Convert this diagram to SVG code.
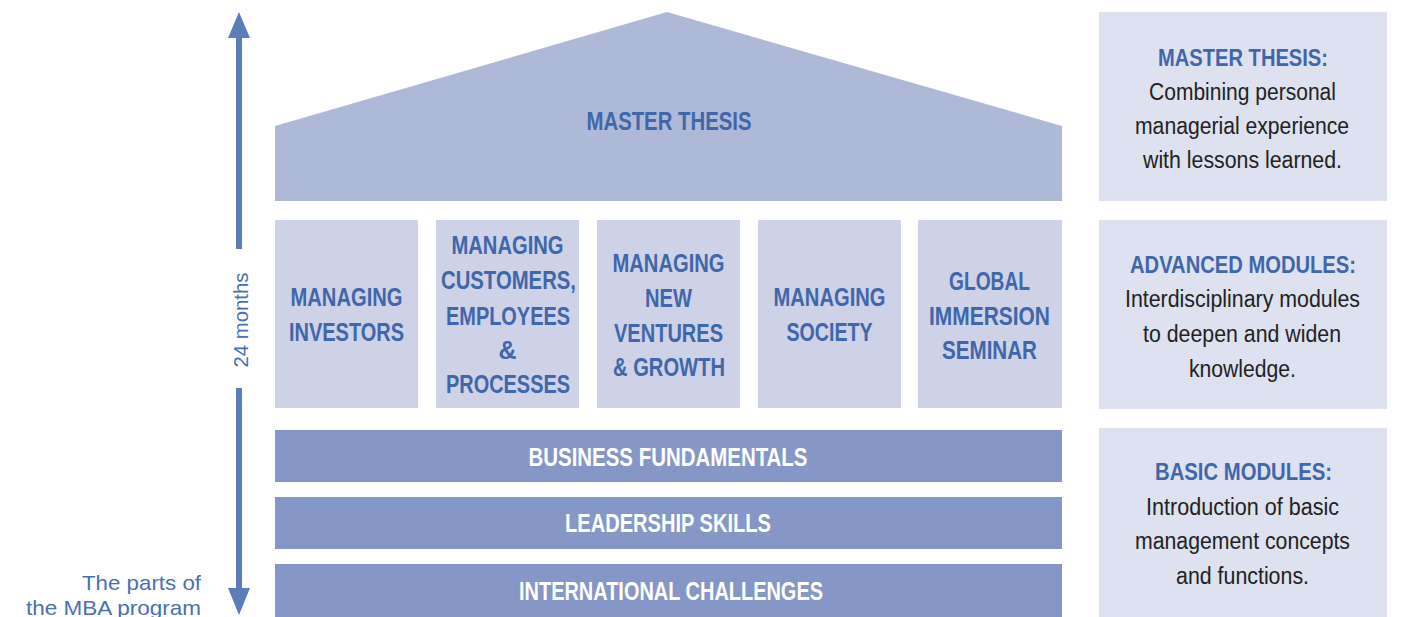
<svg xmlns="http://www.w3.org/2000/svg" width="1401" height="617" viewBox="0 0 1401 617">
<style>
.roof{fill:#aeb9d8}
.col{fill:#cdd2e6}
.bar{fill:#8597c6}
.info{fill:#dde1f0}
.ct{font-family:"Liberation Sans Narrow","Liberation Sans",Arial,sans-serif;font-weight:bold;font-size:25px;fill:#3f67aa;text-anchor:middle}
.bt{font-family:"Liberation Sans Narrow","Liberation Sans",Arial,sans-serif;font-weight:bold;font-size:25px;fill:#ffffff;text-anchor:middle}
.hd{font-family:"Liberation Sans Narrow","Liberation Sans",Arial,sans-serif;font-weight:bold;font-size:24px;fill:#3f67aa;text-anchor:middle}
.bd{font-family:"Liberation Sans",Arial,sans-serif;font-size:23px;fill:#222222;text-anchor:middle}
.lt{font-family:"Liberation Sans",Arial,sans-serif;font-size:21px;fill:#4a70b3}
</style>
<g id="roof">
<polygon class="roof" points="275,126 667,12 1062,126 1062,201 275,201"/>
<text class="ct" x="669" y="130" textLength="165" lengthAdjust="spacingAndGlyphs">MASTER THESIS</text>
</g>
<g id="col1">
<rect class="col" x="275" y="220" width="143" height="188"/>
<text class="ct" x="346.5" y="306" textLength="112" lengthAdjust="spacingAndGlyphs">MANAGING</text>
<text class="ct" x="346.5" y="341" textLength="115" lengthAdjust="spacingAndGlyphs">INVESTORS</text>
</g>
<g id="col2">
<rect class="col" x="436" y="220" width="143" height="188"/>
<text class="ct" x="507.5" y="254" textLength="112" lengthAdjust="spacingAndGlyphs">MANAGING</text>
<text class="ct" x="508.5" y="289" textLength="135" lengthAdjust="spacingAndGlyphs">CUSTOMERS,</text>
<text class="ct" x="508" y="325" textLength="124" lengthAdjust="spacingAndGlyphs">EMPLOYEES</text>
<text class="ct" x="507.5" y="359">&amp;</text>
<text class="ct" x="508" y="393" textLength="124" lengthAdjust="spacingAndGlyphs">PROCESSES</text>
</g>
<g id="col3">
<rect class="col" x="597" y="220" width="143" height="188"/>
<text class="ct" x="668.5" y="272" textLength="112" lengthAdjust="spacingAndGlyphs">MANAGING</text>
<text class="ct" x="668.5" y="307" textLength="47" lengthAdjust="spacingAndGlyphs">NEW</text>
<text class="ct" x="668.5" y="342" textLength="109" lengthAdjust="spacingAndGlyphs">VENTURES</text>
<text class="ct" x="669" y="376" textLength="112" lengthAdjust="spacingAndGlyphs">&amp; GROWTH</text>
</g>
<g id="col4">
<rect class="col" x="758" y="220" width="143" height="188"/>
<text class="ct" x="829.5" y="306" textLength="112" lengthAdjust="spacingAndGlyphs">MANAGING</text>
<text class="ct" x="829.5" y="341" textLength="86" lengthAdjust="spacingAndGlyphs">SOCIETY</text>
</g>
<g id="col5">
<rect class="col" x="918" y="220" width="144" height="188"/>
<text class="ct" x="989.5" y="290" textLength="81" lengthAdjust="spacingAndGlyphs">GLOBAL</text>
<text class="ct" x="989.5" y="325" textLength="121" lengthAdjust="spacingAndGlyphs">IMMERSION</text>
<text class="ct" x="989.5" y="359" textLength="95" lengthAdjust="spacingAndGlyphs">SEMINAR</text>
</g>
<g id="bar1">
<rect class="bar" x="275" y="430" width="787" height="52"/>
<text class="bt" x="668" y="466" textLength="279" lengthAdjust="spacingAndGlyphs">BUSINESS FUNDAMENTALS</text>
</g>
<g id="bar2">
<rect class="bar" x="275" y="497" width="787" height="52"/>
<text class="bt" x="668" y="532" textLength="206" lengthAdjust="spacingAndGlyphs">LEADERSHIP SKILLS</text>
</g>
<g id="bar3">
<rect class="bar" x="275" y="564" width="787" height="53"/>
<text class="bt" x="671" y="600" textLength="304" lengthAdjust="spacingAndGlyphs">INTERNATIONAL CHALLENGES</text>
</g>
<g id="info1">
<rect class="info" x="1099" y="12" width="288" height="189"/>
<text class="hd" x="1243" y="66" textLength="170" lengthAdjust="spacingAndGlyphs">MASTER THESIS:</text>
<text class="bd" x="1242.5" y="100" textLength="187" lengthAdjust="spacingAndGlyphs">Combining personal</text>
<text class="bd" x="1242" y="134" textLength="214" lengthAdjust="spacingAndGlyphs">managerial experience</text>
<text class="bd" x="1242.5" y="168" textLength="199" lengthAdjust="spacingAndGlyphs">with lessons learned.</text>
</g>
<g id="info2">
<rect class="info" x="1099" y="220" width="288" height="189"/>
<text class="hd" x="1243" y="273" textLength="226" lengthAdjust="spacingAndGlyphs">ADVANCED MODULES:</text>
<text class="bd" x="1242.5" y="307" textLength="235" lengthAdjust="spacingAndGlyphs">Interdisciplinary modules</text>
<text class="bd" x="1242" y="342" textLength="198" lengthAdjust="spacingAndGlyphs">to deepen and widen</text>
<text class="bd" x="1242.5" y="377" textLength="107" lengthAdjust="spacingAndGlyphs">knowledge.</text>
</g>
<g id="info3">
<rect class="info" x="1099" y="428" width="288" height="189"/>
<text class="hd" x="1243.5" y="480" textLength="177" lengthAdjust="spacingAndGlyphs">BASIC MODULES:</text>
<text class="bd" x="1242.5" y="515" textLength="193" lengthAdjust="spacingAndGlyphs">Introduction of basic</text>
<text class="bd" x="1242.5" y="549" textLength="215" lengthAdjust="spacingAndGlyphs">management concepts</text>
<text class="bd" x="1242.5" y="584" textLength="133" lengthAdjust="spacingAndGlyphs">and functions.</text>
</g>
<g id="connectors">
<line x1="239" y1="34" x2="239" y2="249" stroke="#5b7dba" stroke-width="6"/>
<polygon points="239,12 228,38 250,38" fill="#5b7dba"/>
<line x1="239" y1="388" x2="239" y2="592" stroke="#5b7dba" stroke-width="6"/>
<polygon points="239,615 228,588 250,588" fill="#5b7dba"/>
</g>
<g id="labels">
<text class="lt" x="0" y="0" transform="translate(248,320) rotate(-90)" text-anchor="middle" textLength="95" lengthAdjust="spacingAndGlyphs">24 months</text>
<text class="lt" x="201" y="590" text-anchor="end" textLength="119" lengthAdjust="spacingAndGlyphs">The parts of</text>
<text class="lt" x="201" y="615" text-anchor="end" textLength="175" lengthAdjust="spacingAndGlyphs">the MBA program</text>
</g>
</svg>
